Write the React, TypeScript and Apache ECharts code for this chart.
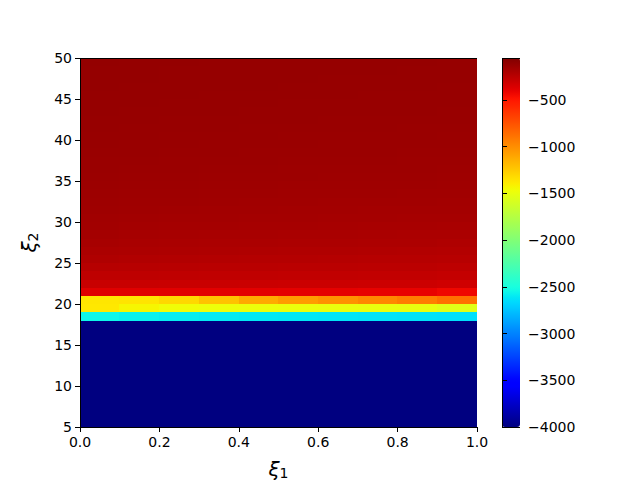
import { useEffect, useRef } from "react";
import * as echarts from "echarts";

// cell left edges (xi_1) and bottom edges (xi_2)
const xCells = ["0.0", "0.1", "0.2", "0.3", "0.4", "0.5", "0.6", "0.7", "0.8", "0.9"];
const yCells = [
  5, 6, 7, 8, 9, 10, 11, 12, 13, 14, 15, 16, 17, 18, 19, 20, 21, 22, 23, 24, 25, 26, 27,
  28, 29, 30, 31, 32, 33, 34, 35, 36, 37, 38, 39, 40, 41, 42, 43, 44, 45, 46, 47, 48, 49,
];

// values row by row, from xi_2 = 5 upward, 10 columns each
const values: number[][] = [
  [-4000, -4000, -4000, -4000, -4000, -4000, -4000, -4000, -4000, -4000],
  [-4000, -4000, -4000, -4000, -4000, -4000, -4000, -4000, -4000, -4000],
  [-4000, -4000, -4000, -4000, -4000, -4000, -4000, -4000, -4000, -4000],
  [-4000, -4000, -4000, -4000, -4000, -4000, -4000, -4000, -4000, -4000],
  [-4000, -4000, -4000, -4000, -4000, -4000, -4000, -4000, -4000, -4000],
  [-4000, -4000, -4000, -4000, -4000, -4000, -4000, -4000, -4000, -4000],
  [-4000, -4000, -4000, -4000, -4000, -4000, -4000, -4000, -4000, -4000],
  [-4000, -4000, -4000, -4000, -4000, -4000, -4000, -4000, -4000, -4000],
  [-4000, -4000, -4000, -4000, -4000, -4000, -4000, -4000, -4000, -4000],
  [-4000, -4000, -4000, -4000, -4000, -4000, -4000, -4000, -4000, -4000],
  [-4000, -4000, -4000, -4000, -4000, -4000, -4000, -4000, -4000, -4000],
  [-4000, -4000, -4000, -4000, -4000, -4000, -4000, -4000, -4000, -4000],
  [-4000, -4000, -4000, -4000, -4000, -4000, -4000, -4000, -4000, -4000],
  [-2550, -2572, -2588, -2598, -2606, -2613, -2619, -2625, -2630, -2640],
  [-1377, -1436, -1466, -1478, -1485, -1490, -1495, -1500, -1505, -1540],
  [-1367, -1359, -1309, -1217, -1116, -1058, -1016, -974, -932, -875],
  [-375, -379, -383, -386, -390, -394, -398, -402, -408, -432],
  [-296, -298, -300, -302, -304, -306, -308, -310, -312, -320],
  [-262, -264, -266, -268, -270, -272, -274, -276, -278, -284],
  [-236, -240, -242, -244, -246, -248, -250, -252, -254, -258],
  [-212, -218, -222, -226, -228, -230, -232, -234, -236, -240],
  [-196, -202, -206, -208, -212, -214, -216, -218, -220, -224],
  [-184, -190, -194, -196, -198, -200, -202, -204, -206, -210],
  [-175, -180, -184, -186, -188, -190, -192, -194, -196, -198],
  [-168, -172, -176, -178, -180, -182, -184, -186, -188, -190],
  [-162, -166, -169, -171, -173, -175, -177, -178, -180, -182],
  [-157, -160, -163, -165, -167, -169, -170, -172, -173, -175],
  [-153, -156, -158, -160, -162, -163, -165, -166, -167, -169],
  [-149, -152, -154, -156, -157, -159, -160, -161, -162, -164],
  [-146, -148, -150, -152, -153, -155, -156, -157, -158, -160],
  [-143, -145, -147, -148, -150, -151, -152, -153, -154, -156],
  [-140, -142, -144, -145, -147, -148, -149, -150, -151, -152],
  [-138, -140, -141, -142, -144, -145, -146, -147, -148, -149],
  [-136, -137, -139, -140, -141, -142, -143, -144, -145, -146],
  [-134, -135, -137, -138, -139, -140, -141, -142, -143, -144],
  [-132, -133, -135, -136, -137, -138, -139, -140, -140, -141],
  [-130, -131, -133, -134, -135, -136, -137, -137, -138, -139],
  [-128, -130, -131, -132, -133, -134, -135, -135, -136, -137],
  [-127, -128, -129, -130, -131, -132, -133, -134, -134, -135],
  [-126, -127, -128, -129, -130, -131, -131, -132, -133, -133],
  [-124, -125, -127, -128, -128, -129, -130, -131, -131, -132],
  [-123, -124, -126, -127, -127, -128, -129, -129, -130, -131],
  [-122, -123, -125, -126, -126, -127, -128, -128, -129, -130],
  [-121, -122, -124, -125, -125, -126, -127, -127, -128, -129],
  [-120, -121, -123, -124, -124, -125, -126, -126, -127, -128],
];

const colorMin = -4000;
const colorMax = -50;
const colorbarTicks = [-4000, -3500, -3000, -2500, -2000, -1500, -1000, -500];

// matplotlib "jet" colormap segments
const JET_R = [[0, 0], [0.35, 0], [0.66, 1], [0.89, 1], [1, 0.5]];
const JET_G = [[0, 0], [0.125, 0], [0.375, 1], [0.64, 1], [0.91, 0], [1, 0]];
const JET_B = [[0, 0.5], [0.11, 1], [0.34, 1], [0.65, 0], [1, 0]];
function seg(p: number[][], t: number) {
  for (let i = 1; i < p.length; i++) {
    if (t <= p[i][0]) {
      const [x0, y0] = p[i - 1];
      const [x1, y1] = p[i];
      return y0 + ((t - x0) / (x1 - x0)) * (y1 - y0);
    }
  }
  return p[p.length - 1][1];
}
function jetColors(n: number) {
  const out: string[] = [];
  for (let i = 0; i < n; i++) {
    const t = i / (n - 1);
    const c = [seg(JET_R, t), seg(JET_G, t), seg(JET_B, t)].map((v) =>
      Math.round(Math.max(0, Math.min(1, v)) * 255)
    );
    out.push(`rgb(${c[0]},${c[1]},${c[2]})`);
  }
  return out;
}

const FONT = "DejaVu Sans";
const BLACK = "#000";

export default function App() {
  const ref = useRef<HTMLDivElement>(null);
  useEffect(() => {
    if (!ref.current) return;
    const chart = echarts.init(ref.current, undefined, { renderer: "svg" });
    const data: number[][] = [];
    values.forEach((row, yi) => row.forEach((v, xi) => data.push([xi, yi, v])));
    const tickLabel = { color: BLACK, fontFamily: FONT, fontSize: 14 };
    const nameRich = {
      x: { fontFamily: FONT, fontStyle: "italic", fontSize: 20, color: BLACK },
      s: { fontFamily: FONT, fontSize: 14, color: BLACK, padding: [8, 0, 0, 0] },
    };
    const line = { show: true, lineStyle: { color: BLACK, width: 1 } };
    chart.setOption({
      animation: false,
      backgroundColor: "#fff",
      grid: [
        { left: 80, top: 58, width: 397, height: 369, outerBoundsMode: "none", containLabel: false },
        { left: 502, top: 58, width: 18, height: 369, outerBoundsMode: "none", containLabel: false },
      ],
      xAxis: [
        {
          type: "category",
          gridIndex: 0,
          data: xCells,
          position: "top",
          axisLine: line,
          axisTick: { show: false },
          axisLabel: { show: false },
          splitLine: { show: false },
          z: 10,
        },
        {
          type: "value",
          gridIndex: 0,
          min: 0,
          max: 1,
          interval: 0.2,
          position: "bottom",
          axisLine: line,
          axisTick: { show: true, inside: false, length: 5, lineStyle: { color: BLACK } },
          axisLabel: { ...tickLabel, margin: 8, formatter: (v: number) => v.toFixed(1) },
          splitLine: { show: false },
          name: "{x|ξ}{s|1}",
          nameLocation: "middle",
          nameGap: 31,
          nameTextStyle: { rich: nameRich },
          z: 10,
        },
        {
          type: "value",
          gridIndex: 1,
          min: 0,
          max: 1,
          position: "bottom",
          axisLine: line,
          axisTick: { show: false },
          axisLabel: { show: false },
          splitLine: { show: false },
          z: 10,
        },
        {
          type: "value",
          gridIndex: 1,
          min: 0,
          max: 1,
          position: "top",
          axisLine: line,
          axisTick: { show: false },
          axisLabel: { show: false },
          splitLine: { show: false },
          z: 10,
        },
      ],
      yAxis: [
        {
          type: "category",
          gridIndex: 0,
          data: yCells,
          position: "right",
          axisLine: line,
          axisTick: { show: false },
          axisLabel: { show: false },
          splitLine: { show: false },
          z: 10,
        },
        {
          type: "value",
          gridIndex: 0,
          min: 5,
          max: 50,
          interval: 5,
          position: "left",
          axisLine: line,
          axisTick: { show: true, inside: false, length: 5, lineStyle: { color: BLACK } },
          axisLabel: { ...tickLabel, margin: 8 },
          splitLine: { show: false },
          name: "{x|ξ}{s|2}",
          nameLocation: "middle",
          nameRotate: 90,
          nameGap: 40,
          nameTextStyle: { rich: nameRich },
          z: 10,
        },
        {
          type: "value",
          gridIndex: 1,
          min: colorMin,
          max: colorMax,
          position: "right",
          axisLine: line,
          axisTick: {
            show: true,
            inside: false,
            length: 5,
            customValues: colorbarTicks,
            lineStyle: { color: BLACK },
          },
          axisLabel: {
            ...tickLabel,
            margin: 8,
            customValues: colorbarTicks,
            formatter: (v: number) => String(v).replace("-", "\u2212"),
          },
          splitLine: { show: false },
          z: 10,
        },
        {
          type: "value",
          gridIndex: 1,
          min: colorMin,
          max: colorMax,
          position: "left",
          axisLine: line,
          axisTick: { show: false },
          axisLabel: { show: false },
          splitLine: { show: false },
          z: 10,
        },
      ],
      visualMap: {
        type: "continuous",
        min: colorMin,
        max: colorMax,
        seriesIndex: 0,
        orient: "vertical",
        left: 502,
        top: 58,
        itemWidth: 18,
        itemHeight: 369,
        padding: 0,
        calculable: false,
        hoverLink: false,
        inRange: { color: jetColors(129) },
        z: 1,
      },
      series: [
        {
          type: "heatmap",
          xAxisIndex: 0,
          yAxisIndex: 0,
          data,
          progressive: 0,
          emphasis: { disabled: true },
          itemStyle: { borderWidth: 0 },
          z: 2,
        },
      ],
    });
    return () => chart.dispose();
  }, []);
  return (
    <>
      <style>{`svg path { shape-rendering: crispEdges; }`}</style>
      <div
        ref={ref}
        style={{ position: "absolute", left: 0, top: 0, width: 640, height: 480 }}
      />
    </>
  );
}
